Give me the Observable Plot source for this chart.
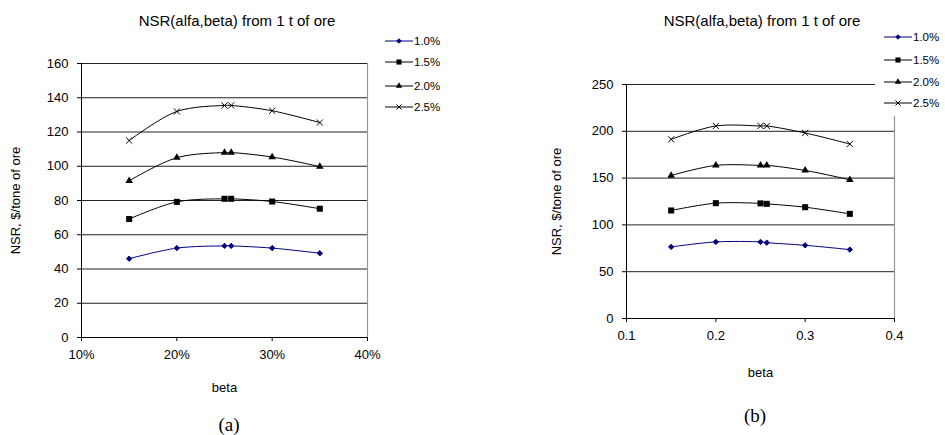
<!DOCTYPE html>
<html><head><meta charset="utf-8">
<script src="https://cdn.jsdelivr.net/npm/d3@7"></script>
<script src="https://cdn.jsdelivr.net/npm/@observablehq/plot@0.6"></script>
<style>
body{margin:0;background:#fff;}
#root{position:relative;width:945px;height:435px;overflow:hidden;font-family:"Liberation Sans",Arial,sans-serif;color:#000;}
.chart{position:absolute;top:0;}
.title{position:absolute;font-size:15px;white-space:nowrap;transform:translate(-50%,-50%);}
.legend{position:absolute;background:#fff;font-size:11.5px;}
.legend .row{position:absolute;left:0;height:16px;width:max-content;display:flex;align-items:center;white-space:nowrap;}
.legend svg{display:block;margin-right:1px;flex:0 0 auto;}
.cap{position:absolute;font-family:"Liberation Serif","Times New Roman",serif;font-size:19px;transform:translate(-50%,-50%);}
</style></head>
<body><div id="root"></div>
<script>
// ---- data ----
const betaValues = [0.15, 0.20, 0.25, 0.257, 0.30, 0.35];
const gradeLabels = ["1.0%", "1.5%", "2.0%", "2.5%"];
// chart (a)
const nsrA_10 = [46, 52.2, 53.5, 53.5, 52.2, 49.2];
const nsrA_15 = [69.2, 79.2, 81, 81, 79.4, 75.2];
const nsrA_20 = [91.5, 105, 108, 108, 105.4, 99.8];
const nsrA_25 = [115, 132, 135.5, 135.5, 132.4, 125.5];
// chart (b)
const nsrB_10 = [76.5, 81.8, 81.8, 81, 78.2, 73.6];
const nsrB_15 = [115.4, 123.2, 123, 122.5, 118.9, 111.8];
const nsrB_20 = [152.8, 163.6, 163.6, 163.6, 158.2, 148.2];
const nsrB_25 = [191.4, 205.7, 205.7, 205.7, 198.2, 186.4];
const yTicksA = [0, 20, 40, 60, 80, 100, 120, 140, 160];
const yTicksB = [0, 50, 100, 150, 200, 250];
const xTicks = [0.1, 0.2, 0.3, 0.4];
const titleText = "NSR(alfa,beta) from 1 t of ore";
const xLabel = "beta";
const yLabel = "NSR, $/tone of ore";
const captions = ["(a)", "(b)"];

// ---- styles ----
const seriesStyle = [
  {color: "#000080", symbol: "diamond2", r: 2.4, d3sym: d3.symbolDiamond2},
  {color: "#000000", symbol: "square", r: 3.4, d3sym: d3.symbolSquare},
  {color: "#000000", symbol: "triangle", r: 2.8, d3sym: d3.symbolTriangle},
  {color: "#000000", symbol: "times", r: 2.9, d3sym: d3.symbolTimes, hollow: true}
];

const root = document.getElementById("root");

function rowsFor(vals, label) {
  return betaValues.map((b, i) => ({beta: b, nsr: vals[i], grade: label}));
}

function makeChart(cfg) {
  const marks = [
    Plot.ruleY(cfg.yTicks.filter(t => t > 0), {stroke: "#222", strokeWidth: 1}),
    Plot.ruleX([cfg.xDomain[1]], {stroke: "#999", strokeWidth: 1.2}),
    Plot.ruleX([cfg.xDomain[0]], {stroke: "#000", strokeWidth: 1}),
    Plot.ruleY([0], {stroke: "#000", strokeWidth: 1}),
    Plot.axisX({ticks: xTicks, tickFormat: cfg.xFormat, tickSize: 4, tickPadding: 8,
      label: xLabel, labelAnchor: "center", labelOffset: cfg.xLabelOffset, labelArrow: false}),
    Plot.axisY({ticks: cfg.yTicks, tickSize: 4, tickPadding: 9,
      label: yLabel, labelAnchor: "center", labelOffset: cfg.yLabelOffset, labelArrow: false})
  ];
  cfg.series.forEach((vals, i) => {
    const st = seriesStyle[i];
    const data = rowsFor(vals, gradeLabels[i]);
    marks.push(Plot.line(data, {x: "beta", y: "nsr", stroke: st.color, strokeWidth: 1, curve: "catmull-rom"}));
    marks.push(Plot.dot(data, st.hollow
      ? {x: "beta", y: "nsr", symbol: () => st.symbol, r: st.r, stroke: st.color, strokeWidth: 1, fill: "none"}
      : {x: "beta", y: "nsr", symbol: () => st.symbol, r: st.r, fill: st.color, stroke: st.color, strokeWidth: st.symbol === "diamond2" ? 1 : 0}));
  });
  const svg = Plot.plot({
    width: cfg.width, height: 435,
    marginLeft: cfg.ml, marginRight: cfg.mr, marginTop: cfg.mt, marginBottom: cfg.mb,
    style: {fontFamily: "'Liberation Sans', Arial, sans-serif", fontSize: "13px", background: "transparent", color: "#000", overflow: "visible"},
    x: {domain: cfg.xDomain},
    y: {domain: cfg.yDomain},
    symbol: {type: "identity"},
    marks
  });
  const wrap = document.createElement("div");
  wrap.className = "chart";
  wrap.style.left = cfg.left + "px";
  wrap.appendChild(svg);
  root.appendChild(wrap);

  const t = document.createElement("div");
  t.className = "title";
  t.textContent = titleText;
  t.style.left = cfg.titleX + "px";
  t.style.top = cfg.titleY + "px";
  root.appendChild(t);

  const lg = document.createElement("div");
  lg.className = "legend";
  Object.assign(lg.style, {left: cfg.legend.x + "px", top: cfg.legend.y + "px", width: cfg.legend.w + "px", height: cfg.legend.h + "px"});
  gradeLabels.forEach((lab, i) => {
    const st = seriesStyle[i];
    const row = document.createElement("div");
    row.className = "row";
    row.style.top = (cfg.legend.rows[i] - cfg.legend.y - 8) + "px";
    row.style.left = cfg.legend.lineX + "px";
    const ns = "http://www.w3.org/2000/svg";
    const s = document.createElementNS(ns, "svg");
    s.setAttribute("width", 28); s.setAttribute("height", 16);
    const ln = document.createElementNS(ns, "line");
    ln.setAttribute("x1", 0); ln.setAttribute("x2", 28); ln.setAttribute("y1", 8); ln.setAttribute("y2", 8);
    ln.setAttribute("stroke", st.color); ln.setAttribute("stroke-width", 1);
    s.appendChild(ln);
    const p = document.createElementNS(ns, "path");
    const rr = st.r * 0.85;
    p.setAttribute("d", d3.symbol(st.d3sym, Math.PI * rr * rr)());
    p.setAttribute("transform", "translate(14,8)");
    if (st.hollow) { p.setAttribute("fill", "none"); p.setAttribute("stroke", st.color); }
    else { p.setAttribute("fill", st.color); p.setAttribute("stroke", st.color); p.setAttribute("stroke-width", st.symbol === "diamond2" ? 1 : 0); }
    s.appendChild(p);
    row.appendChild(s);
    const tx = document.createElement("span");
    tx.textContent = lab;
    row.appendChild(tx);
    lg.appendChild(row);
  });
  root.appendChild(lg);

  const c = document.createElement("div");
  c.className = "cap";
  c.textContent = cfg.caption;
  c.style.left = cfg.capX + "px";
  c.style.top = cfg.capY + "px";
  root.appendChild(c);
}

makeChart({
  left: 0, width: 470, ml: 81, mr: 103, mt: 63, mb: 98,
  xDomain: [0.1, 0.4], yDomain: [0, 160], yTicks: yTicksA,
  xFormat: d3.format(".0%"), xLabelOffset: 54, yLabelOffset: 71,
  series: [nsrA_10, nsrA_15, nsrA_20, nsrA_25],
  titleX: 237, titleY: 20,
  legend: {x: 381, y: 30, w: 64, h: 88, lineX: 4, rows: [41, 62, 86, 107]},
  caption: captions[0], capX: 229, capY: 425
});
makeChart({
  left: 470, width: 475, ml: 156, mr: 51, mt: 84, mb: 117,
  xDomain: [0.1, 0.4], yDomain: [0, 250], yTicks: yTicksB,
  xFormat: d3.format(".1f"), xLabelOffset: 58, yLabelOffset: 75,
  series: [nsrB_10, nsrB_15, nsrB_20, nsrB_25],
  titleX: 762, titleY: 20,
  legend: {x: 875, y: 28, w: 70, h: 88, lineX: 9, rows: [37, 60, 82, 103]},
  caption: captions[1], capX: 755, capY: 416
});
</script>
</body></html>
